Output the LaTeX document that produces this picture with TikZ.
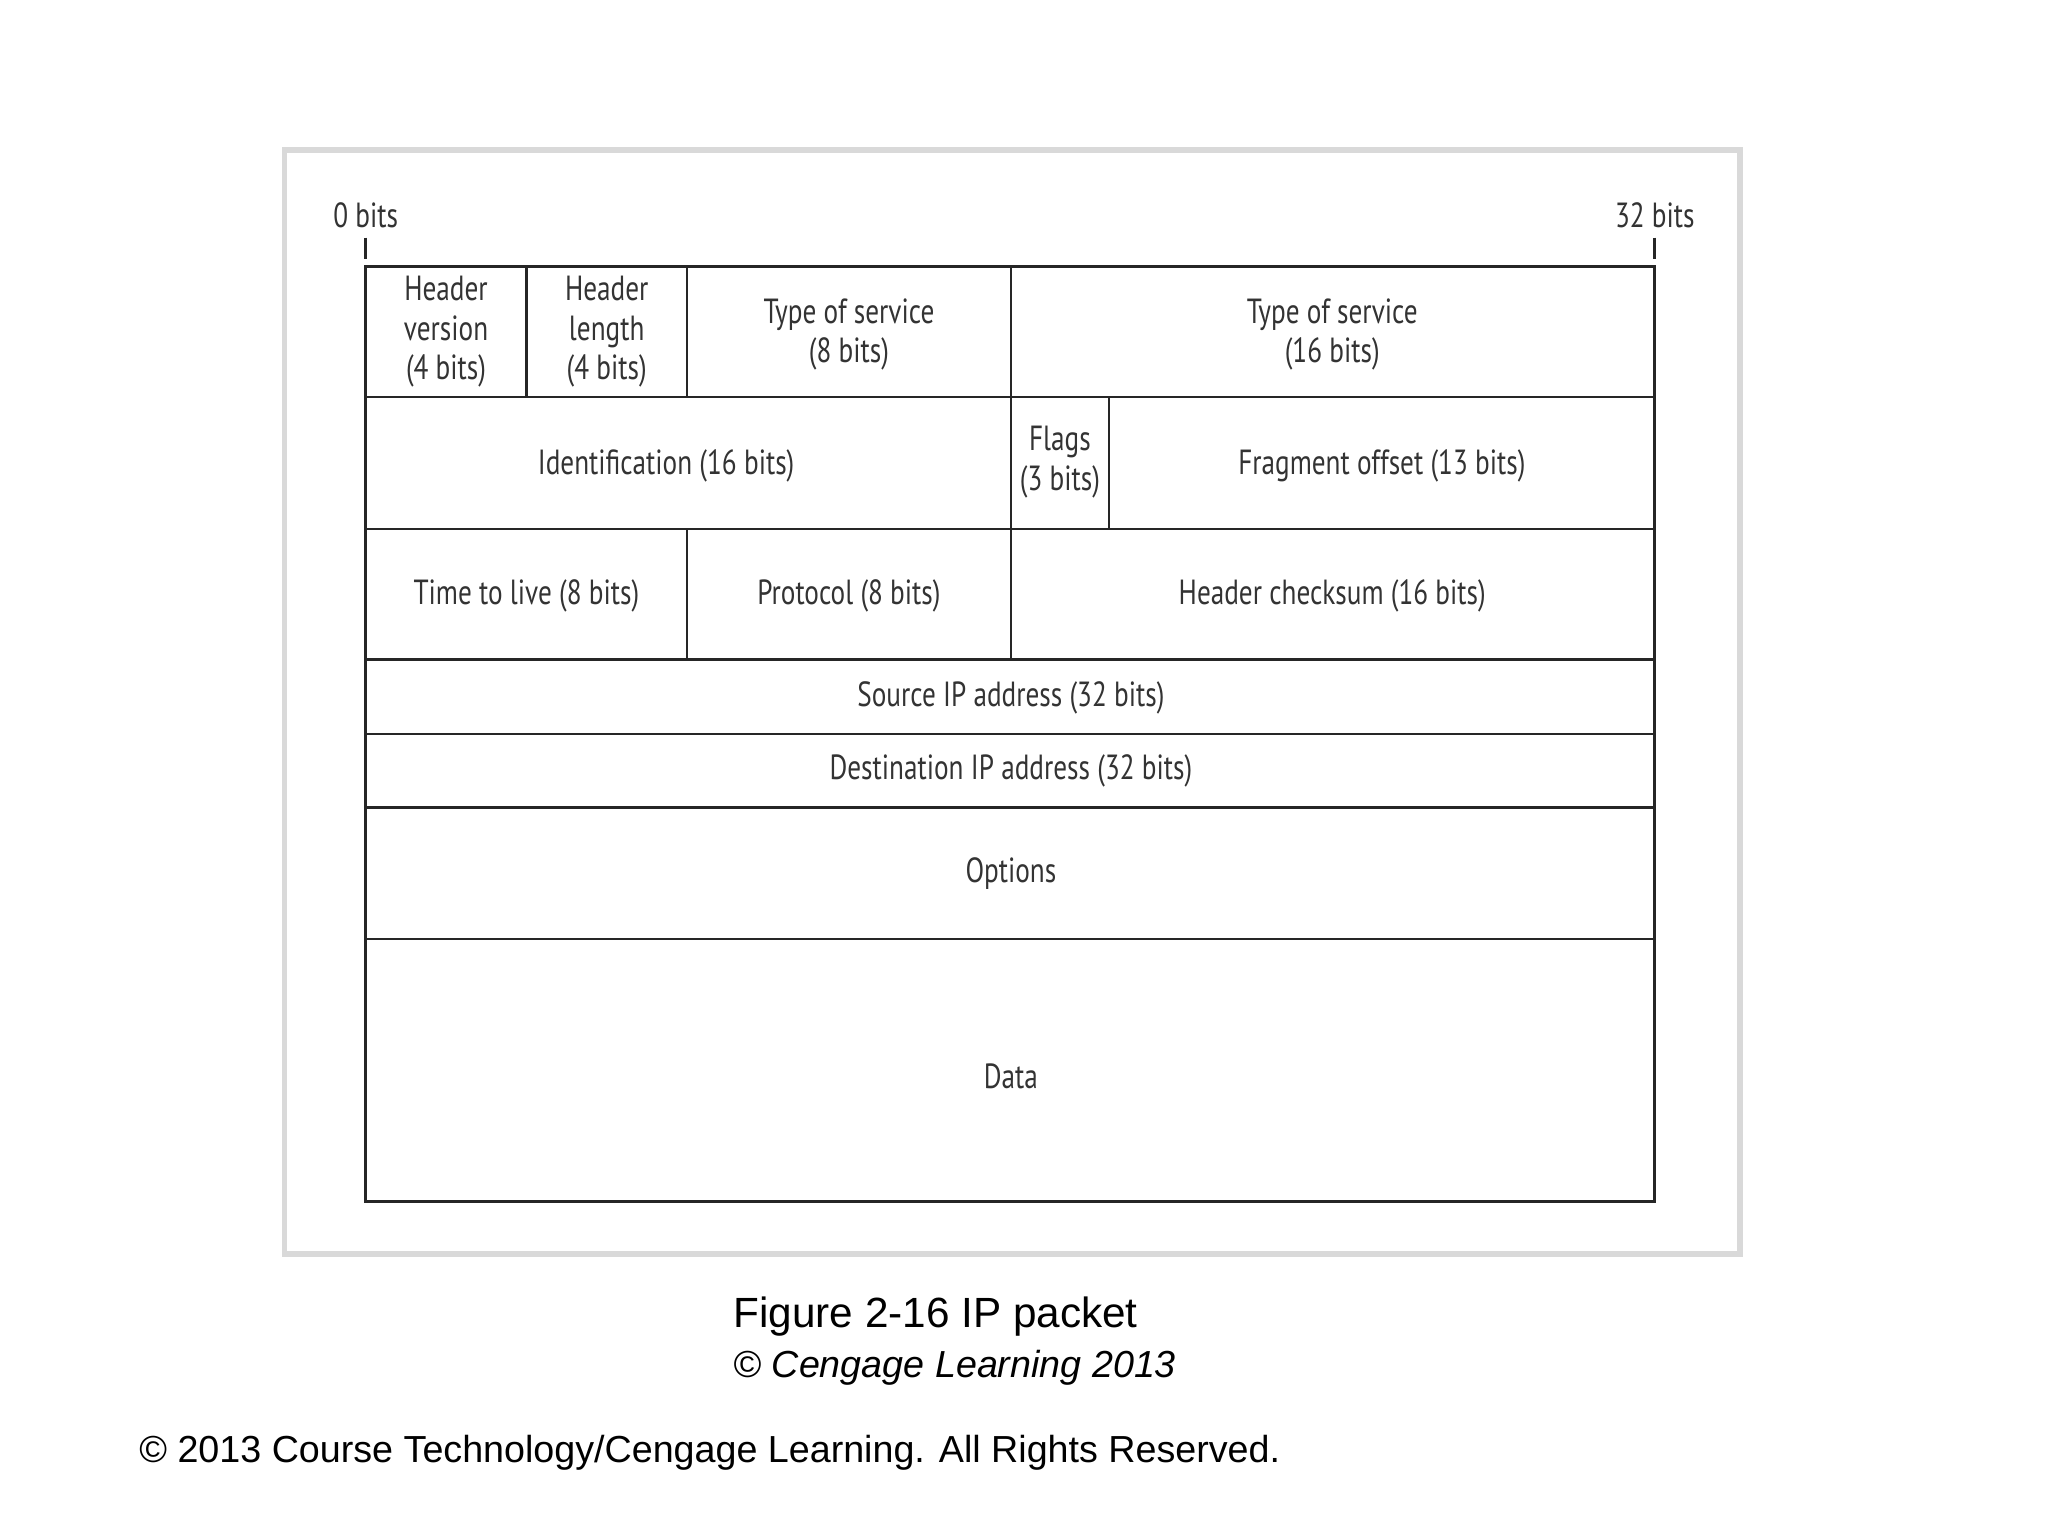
\documentclass[tikz,border=0pt]{standalone}
\usepackage{fontspec}
\setmainfont{Liberation Sans}
\newfontfamily\cellfont[FakeStretch=0.78]{PT Sans}
\begin{document}
\begin{tikzpicture}[x=0.01cm,y=-0.01cm,
  cell/.style={font=\cellfont\fontsize{7.6}{8.6}\selectfont,align=center,text=black!80,inner sep=0pt},
  ln/.style={draw=black!85,line width=0.6pt}]
\useasboundingbox (0,0) rectangle (1568,1176);
\fill[white] (0,0) rectangle (1568,1176);
\draw[black!15,line width=1.2pt] (218,115) rectangle (1332,960);
% grid
\draw[ln] (280,204) rectangle (1267,920);
\foreach \y in {304,405,505,562,618,719} \draw[ln] (280,\y) -- (1267,\y);
\draw[ln] (403,204) -- (403,304);
\draw[ln] (526,204) -- (526,304);
\draw[ln] (774,204) -- (774,505);
\draw[ln] (849,304) -- (849,405);
\draw[ln] (526,405) -- (526,505);
% ticks
\coordinate (t0) at (280,182); \coordinate (t0b) at (280,198);
\coordinate (t1) at (1267,182); \coordinate (t1b) at (1267,198);
\draw[ln] (t0) -- (t0b); \draw[ln] (t1) -- (t1b);
\node[cell] (l0) at (280,165) {0 bits};
\node[cell] (l32) at (1267,165) {32 bits};
% cells
\node[cell] (hv) at (341.5,254) {Header\\version\\(4 bits)};
\node[cell] (hl) at (464.5,254) {Header\\length\\(4 bits)};
\node[cell] (tos) at (650,256) {Type of service\\(8 bits)};
\node[cell] (tos2) at (1020,256) {Type of service\\(16 bits)};
\node[cell] (id) at (510,357) {Identification (16 bits)};
\node[cell] (fl) at (811.5,354) {Flags\\(3 bits)};
\node[cell] (fo) at (1058,357) {Fragment offset (13 bits)};
\node[cell] (ttl) at (403,456) {Time to live (8 bits)};
\node[cell] (pr) at (650,456) {Protocol (8 bits)};
\node[cell] (hc) at (1020,456) {Header checksum (16 bits)};
\node[cell] (src) at (774,534) {Source IP address (32 bits)};
\node[cell] (dst) at (774,590) {Destination IP address (32 bits)};
\node[cell] (op) at (774,669) {Options};
\node[cell] (da) at (774,824) {Data};
% captions
\node[anchor=west,inner sep=0pt,font=\fontsize{9.2}{11}\selectfont] (cap) at (561,1008) {Figure 2-16 IP packet};
\node[anchor=west,inner sep=0pt,font=\fontsize{8.2}{10}\selectfont\itshape] (cap2) at (561,1047) {© Cengage Learning 2013};
\node[anchor=west,inner sep=0pt,font=\fontsize{8.2}{10}\selectfont] (copy) at (106,1112) {© 2013 Course Technology/Cengage Learning. All Rights Reserved.};
\end{tikzpicture}
\end{document}
